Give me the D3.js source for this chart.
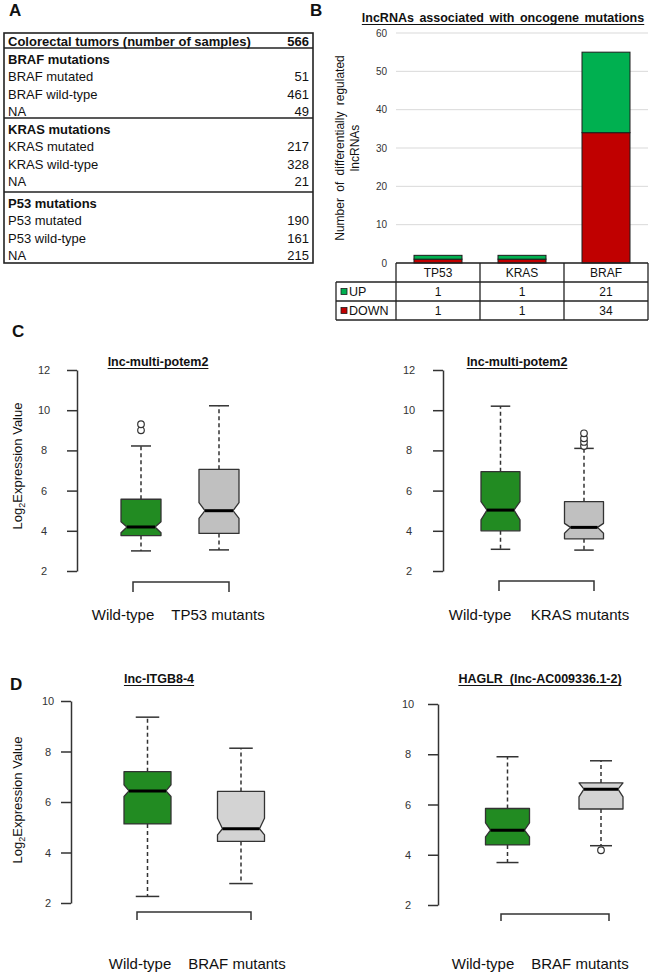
<!DOCTYPE html>
<html><head><meta charset="utf-8">
<script src="https://cdn.jsdelivr.net/npm/d3@7"></script>
<style>body{margin:0;background:#fff} svg text{font-family:"Liberation Sans",Arial,sans-serif; white-space:pre}</style>
</head><body>
<script>
// ---------- Panel A data ----------
const tableTitle = "Colorectal tumors (number of samples)";
const totalSamples = 566;
const sectionTitles = ["BRAF mutations", "KRAS mutations", "P53 mutations"];
const sectionRowLabels = [
  ["BRAF mutated", "BRAF wild-type", "NA"],
  ["KRAS mutated", "KRAS wild-type", "NA"],
  ["P53 mutated", "P53 wild-type", "NA"]
];
const sectionRowCounts = [[51, 461, 49], [217, 328, 21], [190, 161, 215]];

// ---------- Panel B data ----------
const bTitle = "lncRNAs associated with oncogene mutations";
const genes = ["TP53", "KRAS", "BRAF"];
const upCounts = [1, 1, 21];
const downCounts = [1, 1, 34];
const countTicks = [0, 10, 20, 30, 40, 50, 60];
const seriesNames = ["UP", "DOWN"];
const bYTitle = ["Number of differentially regulated", "lncRNAs"];

// ---------- Panels C & D data ----------
const boxTitles = ["lnc-multi-potem2", "lnc-multi-potem2", "lnc-ITGB8-4", "HAGLR  (lnc-AC009336.1-2)"];
const boxGroupLabels = [
  ["Wild-type", "TP53 mutants"],
  ["Wild-type", "KRAS mutants"],
  ["Wild-type", "BRAF mutants"],
  ["Wild-type", "BRAF mutants"]
];
// [lower whisker, Q1, notch low, median, notch high, Q3, upper whisker]
const boxStats = [
  [[3.0, 3.76, 3.9, 4.19, 4.45, 5.57, 8.22], [3.05, 3.87, 4.62, 5.0, 5.4, 7.06, 10.22]],
  [[3.08, 4.0, 4.54, 5.03, 5.45, 6.94, 10.2], [3.04, 3.6, 3.88, 4.17, 4.37, 5.45, 8.1]],
  [[2.26, 5.13, 6.22, 6.44, 6.68, 7.2, 9.36], [2.77, 4.44, 4.7, 4.94, 5.36, 6.42, 8.13]],
  [[3.69, 4.39, 4.71, 4.98, 5.27, 5.84, 7.9], [4.36, 5.82, 6.3, 6.61, 6.86, 6.86, 7.74]]
];
const boxOutliers = [
  [[9.0, 9.3], []],
  [[], [8.22, 8.42, 8.6, 8.85]],
  [[], []],
  [[], [4.18]]
];
const expTicksC = [2, 4, 6, 8, 10, 12];
const expTicksD = [2, 4, 6, 8, 10];

// ---------- Drawing ----------
const FONT = '"Liberation Sans", Arial, sans-serif';
const svg = d3.select("body").append("svg").attr("width", 650).attr("height", 979)
  .style("background", "#fff");
const INK = "#222";

function txt(g, x, y, s, opts = {}) {
  return g.append("text").attr("x", x).attr("y", y).text(s)
    .attr("font-size", opts.size || 13)
    .attr("font-weight", opts.bold ? "bold" : "normal")
    .attr("text-anchor", opts.anchor || "start")
    .attr("fill", opts.fill || "#111");
}
function underline(g, textSel, offset) {
  const bb = textSel.node().getBBox();
  const y = +textSel.attr("y") + offset;
  g.append("line").attr("x1", bb.x).attr("x2", bb.x + bb.width).attr("y1", y).attr("y2", y)
    .attr("stroke", "#111").attr("stroke-width", 1.2);
}

// Panel letters
[["A", 9, 16], ["B", 310, 16], ["C", 12, 337], ["D", 10, 690]].forEach(([l, x, y]) =>
  txt(svg, x, y, l, { size: 17, bold: true }));

// ---------- Panel A ----------
(function () {
  const g = svg.append("g");
  const tL = 4, tR = 313, tTop = 33, tBot = 263;
  const secTops = [48, 118, 192];
  txt(g, 8, 45.5, tableTitle, { size: 13, bold: true });
  txt(g, 309, 45.5, totalSamples, { size: 13, bold: true, anchor: "end" });
  sectionTitles.forEach((s, i) => {
    const top = secTops[i];
    txt(g, 8, top + 11 + 4.5, s, { size: 13, bold: true });
    sectionRowLabels[i].forEach((lab, j) => {
      const yc = top + 11 + (j + 1) * 17.6 + 4.5;
      txt(g, 8, yc, lab, { size: 13 });
      txt(g, 309, yc, sectionRowCounts[i][j], { size: 13, anchor: "end" });
    });
  });
  g.append("rect").attr("x", tL).attr("y", tTop).attr("width", tR - tL).attr("height", tBot - tTop)
    .attr("fill", "none").attr("stroke", INK).attr("stroke-width", 1.6);
  secTops.forEach(t => g.append("line").attr("x1", tL).attr("x2", tR).attr("y1", t).attr("y2", t)
    .attr("stroke", INK).attr("stroke-width", 1.6));
})();

// ---------- Panel B ----------
(function () {
  const g = svg.append("g");
  const yB = d3.scaleLinear().domain([0, 60]).range([263, 33]);
  const xB = d3.scaleBand().domain(genes).range([396, 648]);
  const barW = 48;
  const t = txt(g, 503, 22, bTitle, { size: 12.5, bold: true, anchor: "middle" }).attr("word-spacing", 2);
  underline(g, t, 2.5);
  countTicks.forEach(v => {
    g.append("line").attr("x1", 396).attr("x2", 648).attr("y1", yB(v)).attr("y2", yB(v))
      .attr("stroke", "#d9d9d9").attr("stroke-width", 1);
    txt(g, 387, yB(v) + 3.5, v, { size: 10, anchor: "end", fill: "#333" });
  });
  const yt = g.append("g");
  [[340, bYTitle[0]], [355, bYTitle[1]]].forEach(([x, s]) => {
    yt.append("text").attr("transform", `translate(${x},148) rotate(-90)`)
      .attr("text-anchor", "middle").attr("dy", "0.35em").attr("font-size", 12)
      .attr("word-spacing", 3).attr("fill", "#111").text(s);
  });
  const rows = genes.map((gname, i) => ({ gene: gname, UP: upCounts[i], DOWN: downCounts[i] }));
  const stack = d3.stack().keys(["DOWN", "UP"])(rows);
  const colors = { UP: "#00B050", DOWN: "#C00000" };
  stack.forEach(layer => {
    g.selectAll(null).data(layer).enter().append("rect")
      .attr("x", d => xB(d.data.gene) + (xB.bandwidth() - barW) / 2)
      .attr("width", barW)
      .attr("y", d => yB(d[1]))
      .attr("height", d => yB(d[0]) - yB(d[1]))
      .attr("fill", colors[layer.key])
      .attr("stroke", "#1c1c1c").attr("stroke-width", 1);
  });
  const rTop = [263, 282, 301, 320];
  const lx = 336;
  genes.forEach((gname, i) => {
    const cx = xB(gname) + xB.bandwidth() / 2;
    txt(g, cx, 277, gname, { size: 12, anchor: "middle" });
    txt(g, cx, 296, upCounts[i], { size: 12, anchor: "middle" });
    txt(g, cx, 315, downCounts[i], { size: 12, anchor: "middle" });
  });
  seriesNames.forEach((s, i) => {
    const yc = (rTop[i + 1] + rTop[i + 2]) / 2;
    g.append("rect").attr("x", 341).attr("y", yc - 3).attr("width", 6).attr("height", 6)
      .attr("fill", colors[s]).attr("stroke", "#1c1c1c").attr("stroke-width", 0.8);
    txt(g, 349, yc + 4.5, s, { size: 12.5 });
  });
  const L = (x1, y1, x2, y2) => g.append("line").attr("x1", x1).attr("y1", y1).attr("x2", x2).attr("y2", y2)
    .attr("stroke", INK).attr("stroke-width", 1.3);
  L(396, 263, 648, 263);
  [282, 301, 320].forEach(y => L(lx, y, 648, y));
  L(lx, 282, lx, 320);
  [396, 480, 564, 648].forEach(x => L(x, 263, x, 320));
})();

// ---------- Boxplots ----------
const boxCfgs = [
  { axisX: 77, yTop: 370, yBot: 571, ticks: expTicksC, labOff: 33, centers: [141, 219], bw: 40, inset: 6,
    bracket: [133, 229, 582, 592], labelX: [123, 218], labelY: 620, titleX: 158, titleY: 366,
    fills: ["#228B22", "#C0C0C0"], yTitle: [17, 466] },
  { axisX: 443, yTop: 370, yBot: 571, ticks: expTicksC, labOff: 34, centers: [500.5, 584], bw: 39, inset: 6,
    bracket: [499, 594, 581, 591], labelX: [480, 580], labelY: 620, titleX: 517, titleY: 366,
    fills: ["#228B22", "#C0C0C0"], yTitle: null },
  { axisX: 71, yTop: 701, yBot: 903, ticks: expTicksD, labOff: 23, centers: [147.5, 241], bw: 47, inset: 5,
    bracket: [137, 251, 912, 920], labelX: [140, 237], labelY: 969, titleX: 159, titleY: 683,
    fills: ["#228B22", "#D3D3D3"], yTitle: [17, 800] },
  { axisX: 438, yTop: 704, yBot: 905, ticks: expTicksD, labOff: 30, centers: [507.5, 601], bw: 44, inset: 5,
    bracket: [501, 609, 914, 921], labelX: [483, 580], labelY: 969, titleX: 540, titleY: 683,
    fills: ["#228B22", "#D3D3D3"], yTitle: null }
];

boxCfgs.forEach((cfg, ci) => {
  const g = svg.append("g");
  const y = d3.scaleLinear().domain([2, d3.max(cfg.ticks)]).range([cfg.yBot, cfg.yTop]);
  const x = d3.scalePoint().domain(boxGroupLabels[ci]).range(cfg.centers);
  const ax = g.append("g").attr("transform", `translate(${cfg.axisX},0)`)
    .call(d3.axisLeft(y).tickValues(cfg.ticks).tickSize(10).tickSizeOuter(0).tickFormat(d3.format("d")))
    .attr("font-family", FONT).attr("font-size", 11);
  ax.select(".domain").attr("stroke", "#333").attr("stroke-width", 1.5);
  ax.selectAll(".tick line").attr("stroke", "#333").attr("stroke-width", 1.5);
  ax.selectAll(".tick text").attr("x", -cfg.labOff).attr("text-anchor", "middle").attr("fill", "#333");
  if (cfg.yTitle) {
    const t = g.append("text").attr("transform", `translate(${cfg.yTitle[0]},${cfg.yTitle[1]}) rotate(-90)`)
      .attr("text-anchor", "middle").attr("dy", "0.35em").attr("font-size", 13).attr("fill", "#111");
    t.append("tspan").text("Log");
    t.append("tspan").text("2").attr("font-size", 9).attr("dy", 3);
    t.append("tspan").text("Expression Value").attr("dy", -3);
  }
  const tt = txt(g, cfg.titleX, cfg.titleY, boxTitles[ci], { size: 12.5, bold: true, anchor: "middle" });
  underline(g, tt, 2.5);
  boxGroupLabels[ci].forEach((lab, k) => {
    const [lo, q1, nLo, med, nHi, q3, hi] = boxStats[ci][k];
    const cx = x(lab), hw = cfg.bw / 2, L = cx - hw, R = cx + hw, ins = cfg.inset;
    [[q3, hi], [q1, lo]].forEach(([a, b]) => {
      g.append("line").attr("x1", cx).attr("x2", cx).attr("y1", y(a)).attr("y2", y(b))
        .attr("stroke", "#333").attr("stroke-width", 1.5).attr("stroke-dasharray", "4,3");
      g.append("line").attr("x1", cx - hw / 2).attr("x2", cx + hw / 2).attr("y1", y(b)).attr("y2", y(b))
        .attr("stroke", "#333").attr("stroke-width", 1.5);
    });
    const pts = [[L, q1], [L, nLo], [L + ins, med], [L, nHi], [L, q3], [R, q3], [R, nHi], [R - ins, med], [R, nLo], [R, q1]]
      .map(([px, v]) => [px, y(v)]);
    g.append("path").attr("d", d3.line()(pts) + "Z").attr("fill", cfg.fills[k])
      .attr("stroke", "#333").attr("stroke-width", 1.3).attr("stroke-linejoin", "round");
    g.append("line").attr("x1", L + ins).attr("x2", R - ins).attr("y1", y(med)).attr("y2", y(med))
      .attr("stroke", "#000").attr("stroke-width", 3);
    boxOutliers[ci][k].forEach(v => g.append("circle").attr("cx", cx).attr("cy", y(v)).attr("r", 3.3)
      .attr("fill", "#fff").attr("stroke", "#333").attr("stroke-width", 1.2));
    txt(g, cfg.labelX[k], cfg.labelY, lab, { size: 15, anchor: "middle" });
  });
  const [bx1, bx2, by1, by2] = cfg.bracket;
  g.append("path").attr("d", `M${bx1},${by2}V${by1}H${bx2}V${by2}`).attr("fill", "none")
    .attr("stroke", "#333").attr("stroke-width", 1.5);
});
</script>
</body></html>
